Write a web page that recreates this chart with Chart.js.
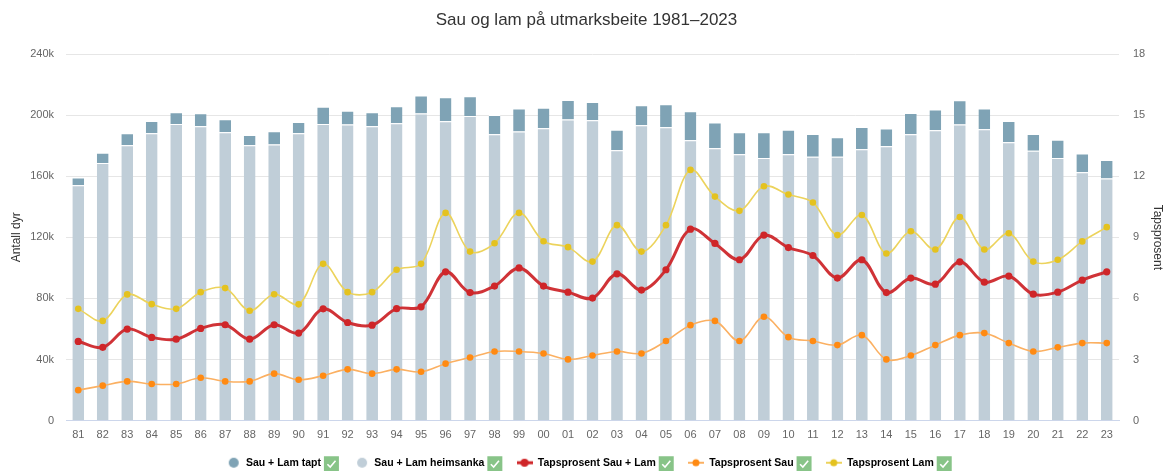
<!DOCTYPE html>
<html lang="no">
  <head>
    <meta charset="UTF-8" />
    <title>Sau og lam på utmarksbeite 1981–2023</title>
    <script src="https://cdn.jsdelivr.net/npm/chart.js"></script>
    <style>
      html, body { margin: 0; padding: 0; background: #fff; }
      #chart { display: block; }
    </style>
  </head>
  <body>
    <canvas id="chart" width="1173" height="471"></canvas>

    <script>
      // Data (lest av bildet)
      const years = ["81","82","83","84","85","86","87","88","89","90","91","92","93","94","95","96","97","98","99",
        "00","01","02","03","04","05","06","07","08","09","10","11","12","13","14","15","16","17","18","19","20","21","22","23"];

      const heimsanka = [154100,168700,180300,188100,194200,192700,188800,180300,180700,188100,194200,193800,192700,194700,201000,
        196000,199500,187500,189200,191400,197100,196600,177000,193400,192100,183600,178300,174400,172000,174400,
        172700,172700,177700,179600,187500,190100,193800,190700,182200,176600,172000,162600,158500];

      const tapt = [5000,6600,7800,8100,7700,8500,8500,6700,8700,7400,11200,9100,9200,11100,11800,
        15700,12800,12600,15100,13500,12800,12000,13500,13000,15000,18900,16800,14400,16800,16100,
        15000,12800,14600,11600,13900,13500,15900,13600,14000,11100,11800,12200,12200];

      const tapSauLam = [3.89,3.6,4.5,4.09,4.0,4.53,4.71,4.0,4.71,4.3,5.49,4.82,4.69,5.5,5.59,
        7.31,6.29,6.61,7.5,6.61,6.31,6.02,7.21,6.41,7.41,9.4,8.7,7.9,9.11,8.5,
        8.11,7.0,7.9,6.29,7.0,6.7,7.8,6.8,7.1,6.21,6.31,6.9,7.31];

      const tapSau = [1.5,1.72,1.93,1.8,1.8,2.11,1.93,1.93,2.31,2.01,2.21,2.52,2.31,2.52,2.4,
        2.8,3.1,3.4,3.4,3.3,3.01,3.2,3.4,3.3,3.91,4.69,4.9,3.91,5.1,4.1,
        3.91,3.71,4.2,3.01,3.2,3.71,4.2,4.3,3.81,3.4,3.6,3.81,3.81];

      const tapLam = [5.49,4.9,6.2,5.72,5.49,6.31,6.51,5.4,6.21,5.71,7.7,6.31,6.31,7.41,7.7,
        10.2,8.3,8.71,10.2,8.81,8.52,7.81,9.6,8.3,9.6,12.31,11.0,10.3,11.51,11.1,
        10.71,9.11,10.1,8.21,9.3,8.4,10.0,8.4,9.2,7.81,7.9,8.8,9.5];

      const leftTicks = [0, 40000, 80000, 120000, 160000, 200000, 240000];
      const rightTicks = [0, 3, 6, 9, 12, 15, 18];

      const seriesNames = ["Sau + Lam tapt", "Sau + Lam heimsanka", "Tapsprosent Sau + Lam", "Tapsprosent Sau", "Tapsprosent Lam"];

      // Farger
      const cTapt = "#7fa3b5", cHeim = "#c0ced8";
      const cRed = "#cf2528", cRedLine = "rgba(204,34,38,0.92)";
      const cOrange = "#ff8a12", cOrangeLine = "#fbb062";
      const cYellow = "#e4c21f", cYellowLine = "#ecd35c";

      const FONT = "'Liberation Sans', Arial, sans-serif";
      const LEGEND_SIZE = 10.5;

      // Legendemarkører
      function circleMarker(color) {
        const c = document.createElement("canvas");
        c.width = 16; c.height = 12;
        const g = c.getContext("2d");
        g.fillStyle = color;
        g.beginPath(); g.arc(9, 6, 5, 0, Math.PI * 2); g.fill();
        return c;
      }
      function lineMarker(lineColor, dotColor, lw, r) {
        const c = document.createElement("canvas");
        c.width = 16; c.height = 12;
        const g = c.getContext("2d");
        g.strokeStyle = lineColor; g.lineWidth = lw;
        g.beginPath(); g.moveTo(0, 6); g.lineTo(16, 6); g.stroke();
        g.fillStyle = dotColor;
        g.beginPath(); g.arc(8, 6, r, 0, Math.PI * 2); g.fill();
        return c;
      }
      const markers = [
        circleMarker(cTapt),
        circleMarker(cHeim),
        lineMarker(cRed, cRed, 3, 4),
        lineMarker(cOrangeLine, cOrange, 2, 3.5),
        lineMarker(cYellowLine, cYellow, 2, 3.5)
      ];
      const legendDatasetIndex = [1, 0, 2, 3, 4];

      // Grønne avkrysningsbokser etter hver legendetekst
      const legendChecks = {
        id: "legendChecks",
        afterDraw(chart) {
          const lg = chart.legend;
          if (!lg || !lg.legendHitBoxes) return;
          const ctx = chart.ctx;
          ctx.save();
          ctx.font = "bold " + LEGEND_SIZE + "px " + FONT;
          lg.legendHitBoxes.forEach((hb, i) => {
            const item = lg.legendItems[i];
            const x = hb.left + 16 + LEGEND_SIZE / 2 + ctx.measureText(item.realText).width + 3;
            const y = hb.top + LEGEND_SIZE / 2 - 7.5 + 1;
            ctx.fillStyle = "#88c488";
            ctx.fillRect(x, y, 15, 15);
            ctx.strokeStyle = "#fff";
            ctx.lineWidth = 1.6;
            ctx.beginPath();
            ctx.moveTo(x + 3.5, y + 8);
            ctx.lineTo(x + 6.3, y + 10.8);
            ctx.lineTo(x + 11.6, y + 4.6);
            ctx.stroke();
          });
          ctx.restore();
        }
      };

      const chart = new Chart(document.getElementById("chart"), {
        type: "bar",
        data: {
          labels: years,
          datasets: [
            {
              label: seriesNames[1], data: heimsanka, backgroundColor: cHeim,
              borderColor: "#fff", borderWidth: { top: 1, bottom: 0, left: 0, right: 0 }, borderSkipped: false,
              stack: "dyr", yAxisID: "y", order: 5, barPercentage: 0.48, categoryPercentage: 1
            },
            {
              label: seriesNames[0], data: tapt, backgroundColor: cTapt,
              borderColor: "#fff", borderWidth: { top: 1, bottom: 0, left: 0, right: 0 }, borderSkipped: false,
              stack: "dyr", yAxisID: "y", order: 5, barPercentage: 0.48, categoryPercentage: 1
            },
            {
              type: "line", label: seriesNames[2], data: tapSauLam, yAxisID: "y1", order: 0,
              borderColor: cRedLine, borderWidth: 3, tension: 0.35,
              pointRadius: 3.6, pointBackgroundColor: cRed, pointBorderWidth: 0
            },
            {
              type: "line", label: seriesNames[3], data: tapSau, yAxisID: "y1", order: 1,
              borderColor: cOrangeLine, borderWidth: 1.6, tension: 0.35,
              pointRadius: 3.3, pointBackgroundColor: cOrange, pointBorderWidth: 0
            },
            {
              type: "line", label: seriesNames[4], data: tapLam, yAxisID: "y1", order: 1,
              borderColor: cYellowLine, borderWidth: 1.6, tension: 0.35,
              pointRadius: 3.3, pointBackgroundColor: cYellow, pointBorderWidth: 0
            }
          ]
        },
        options: {
          responsive: false,
          animation: false,
          layout: { padding: { top: 0, left: 0, right: 0, bottom: -7 } },
          plugins: {
            title: {
              display: true,
              text: "Sau og lam på utmarksbeite 1981–2023",
              color: "#333",
              font: { family: FONT, size: 17, weight: "normal" },
              padding: { top: 10, bottom: 23.6 }
            },
            legend: {
              position: "bottom",
              labels: {
                usePointStyle: true,
                pointStyleWidth: 16,
                padding: 3,
                color: "#333",
                font: { family: FONT, size: LEGEND_SIZE, weight: "bold" },
                generateLabels() {
                  return seriesNames.map((name, i) => ({
                    text: name + (i < 4 ? "          " : "     "),
                    realText: name,
                    fillStyle: "transparent",
                    strokeStyle: "transparent",
                    lineWidth: 0,
                    pointStyle: markers[i],
                    hidden: false,
                    datasetIndex: legendDatasetIndex[i]
                  }));
                }
              }
            },
            tooltip: { enabled: false }
          },
          scales: {
            x: {
              stacked: true,
              grid: { display: false, drawTicks: false },
              border: { display: true, color: "#ccd6eb", width: 1 },
              ticks: { color: "#666", font: { family: FONT, size: 11 }, padding: 8, maxRotation: 0, autoSkip: false },
              afterFit(s) { s.height = 33.8; }
            },
            y: {
              position: "left",
              stacked: true,
              min: 0, max: 240000,
              afterBuildTicks(s) { s.ticks = leftTicks.map(v => ({ value: v })); },
              grid: { color: "#e6e6e6", drawTicks: false },
              border: { display: false },
              ticks: {
                color: "#666", font: { family: FONT, size: 11 }, padding: 12,
                callback: v => v === 0 ? "0" : (v / 1000) + "k"
              },
              title: { display: true, text: "Antall dyr", color: "#333", font: { family: FONT, size: 12 }, padding: { top: 9, bottom: 0 } },
              afterFit(s) { s.width = 66; }
            },
            y1: {
              position: "right",
              min: 0, max: 18,
              afterBuildTicks(s) { s.ticks = rightTicks.map(v => ({ value: v })); },
              grid: { display: false, drawTicks: false },
              border: { display: false },
              ticks: { color: "#666", font: { family: FONT, size: 11 }, padding: 14 },
              title: { display: true, text: "Tapsprosent", color: "#333", font: { family: FONT, size: 12 }, padding: { top: 8, bottom: 0 } },
              afterFit(s) { s.width = 54; }
            }
          }
        },
        plugins: [legendChecks]
      });
    </script>
  </body>
</html>
